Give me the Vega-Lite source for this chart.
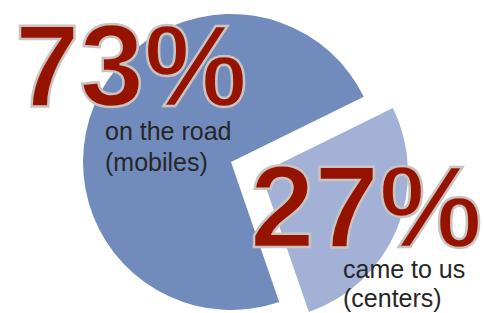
{
  "$schema": "https://vega.github.io/schema/vega-lite/v6.json",
  "width": 462,
  "height": 302,
  "autosize": {"type": "none"},
  "padding": {"left": 0, "top": 11, "right": 22, "bottom": 0},
  "background": "white",
  "config": {"view": {"stroke": null}},
  "data": {
    "values": [
      {"segment": "on the road", "label": "73%", "sub": "on the road\n(mobiles)", "value": 73, "order": 1},
      {"segment": "came to us", "label": "27%", "sub": "came to us\n(centers)", "value": 27, "order": 2}
    ]
  },
  "transform": [
    {"stack": "value", "groupby": [], "sort": [{"field": "order", "order": "ascending"}], "as": ["v0", "v1"]}
  ],
  "encoding": {
    "theta": {"field": "v0", "type": "quantitative", "scale": {"domain": [0, 100], "range": [2.8100, 9.0932]}},
    "theta2": {"field": "v1"},
    "color": {
      "field": "segment", "type": "nominal", "legend": null,
      "scale": {"domain": ["on the road", "came to us"], "range": ["#728BBD", "#A3B1D7"]}
    }
  },
  "layer": [
    {
      "transform": [{"filter": "datum.order == 1"}],
      "mark": {"type": "arc", "outerRadius": 148}
    },
    {
      "transform": [{"filter": "datum.order == 2"}],
      "mark": {"type": "arc", "outerRadius": 147, "xOffset": 30, "yOffset": 11}
    },
    {
      "transform": [{"filter": "datum.order == 1"}],
      "mark": {"type": "text", "font": "Liberation Sans", "fontSize": 25, "color": "#262626", "align": "left", "baseline": "alphabetic", "lineBreak": "\n", "lineHeight": 31, "dx": -126, "dy": -22},
      "encoding": {"text": {"field": "sub"}, "theta": null, "theta2": null, "color": null}
    },
    {
      "transform": [{"filter": "datum.order == 2"}],
      "mark": {"type": "text", "font": "Liberation Sans", "fontSize": 25, "color": "#262626", "align": "left", "baseline": "alphabetic", "lineBreak": "\n", "lineHeight": 29, "dx": 112, "dy": 116},
      "encoding": {"text": {"field": "sub"}, "theta": null, "theta2": null, "color": null}
    },
    {
      "transform": [{"filter": "datum.order == 1"}],
      "mark": {"type": "text", "font": "Liberation Sans", "fontWeight": "bold", "fontSize": 116, "fill": "#961300", "stroke": "#C9C4C2", "strokeWidth": 2.5, "align": "center", "baseline": "alphabetic", "dx": -100, "dy": -56},
      "encoding": {"text": {"field": "label"}, "theta": null, "theta2": null, "color": null}
    },
    {
      "transform": [{"filter": "datum.order == 2"}],
      "mark": {"type": "text", "font": "Liberation Sans", "fontWeight": "bold", "fontSize": 116, "fill": "#961300", "stroke": "#C9C4C2", "strokeWidth": 2.5, "align": "center", "baseline": "alphabetic", "dx": 135, "dy": 85},
      "encoding": {"text": {"field": "label"}, "theta": null, "theta2": null, "color": null}
    }
  ]
}
